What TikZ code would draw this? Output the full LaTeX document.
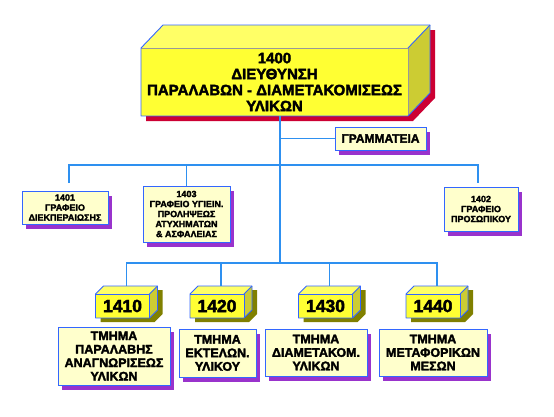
\documentclass[tikz,border=0pt]{standalone}
\usepackage{fontspec}
\setmainfont{Liberation Sans}
\newfontfamily\orgfont{Liberation Sans Bold}[FakeBold=2.5]
\usetikzlibrary{backgrounds,shadows}
\definecolor{linkblue}{HTML}{2E90F0}
\definecolor{edgeblue}{HTML}{3366FF}
\definecolor{edgegray}{HTML}{999999}
\definecolor{paleyellow}{HTML}{FFFFCC}
\definecolor{shadowpurple}{HTML}{9933CC}
\definecolor{cubefront}{HTML}{FFFF33}
\definecolor{cubetop}{HTML}{FFFF66}
\definecolor{cubeside}{HTML}{CCCC33}
\definecolor{shadowred}{HTML}{CC0033}
\definecolor{shadowolive}{HTML}{808000}

% faces of a box around its front node:
% #1 node, #2 depth, #3 inner edge colour, #4 shadow colour, #5 shadow shift
\newcommand{\prismfaces}[5]{%
  \fill[cubetop] (#1.north west) -- ([shift={#2}]#1.north west)
    -- ([shift={#2}]#1.north east) -- (#1.north east) -- cycle;
  \fill[cubeside] (#1.north east) -- ([shift={#2}]#1.north east)
    -- ([shift={#2}]#1.south east) -- (#1.south east) -- cycle;
  \draw[cubeedge=#3] (#1.north west) -- (#1.north east) -- (#1.south east);
  \draw[cubeedge=edgeblue] (#1.south west) -- (#1.north west)
    -- ([shift={#2}]#1.north west) -- ([shift={#2}]#1.north east)
    -- ([shift={#2}]#1.south east) -- (#1.south east) -- cycle;
  \draw[cubeedge=edgeblue] (#1.north east) -- ([shift={#2}]#1.north east);
  \begin{scope}[on background layer]
    \fill[#4] ([shift={#5}]#1.south west) -- ([shift={#5}]#1.north west)
      -- ([shift={#2},shift={#5}]#1.north west)
      -- ([shift={#2},shift={#5}]#1.north east)
      -- ([shift={#2},shift={#5}]#1.south east)
      -- ([shift={#5}]#1.south east) -- cycle;
  \end{scope}
}

\begin{document}
\begin{tikzpicture}[
    x=1pt, y=-1pt,
    every node/.style={text=black},
    cubeedge/.style={draw=#1, line width=0.9pt, line join=round},
    dirbox/.style={
        rectangle,
        fill=cubefront,
        inner sep=0pt, outer sep=0pt,
        minimum width=267pt,
        minimum height=68pt,
        align=center,
        font=\orgfont\fontsize{15}{16}\selectfont
    },
    numbox/.style={
        rectangle,
        fill=cubefront,
        inner sep=0pt, outer sep=0pt,
        minimum width=54pt,
        minimum height=24pt,
        font=\orgfont\fontsize{17.5}{18}\selectfont
    },
    flatbox/.style={
        rectangle,
        draw=edgeblue,
        line width=1pt,
        fill=paleyellow,
        inner sep=0pt, outer sep=0pt,
        align=center,
        drop shadow={shadow xshift=4pt, shadow yshift=-5pt,
                     fill=shadowpurple, opacity=1}
    },
    officebox/.style={flatbox, font=\orgfont\fontsize{9}{10}\selectfont},
    deptbox/.style={flatbox, font=\orgfont\fontsize{12.5}{13.5}\selectfont},
    secbox/.style={flatbox, font=\orgfont\fontsize{12}{13}\selectfont},
    conn/.style={draw=linkblue, line width=1.3pt}
]
\useasboundingbox (0,0) rectangle (554,416);

% direction
\node[dirbox] (dir) at (274.5,82)
{1400\\ΔΙΕΥΘΥΝΣΗ\\ΠΑΡΑΛΑΒΩΝ - ΔΙΑΜΕΤΑΚΟΜΙΣΕΩΣ\\ΥΛΙΚΩΝ};
\prismfaces{dir}{(22,-23)}{edgegray}{shadowred}{(5,5)}

\node[secbox, minimum width=91pt, minimum height=23pt] (gram) at (380.5,138.5)
{ΓΡΑΜΜΑΤΕΙΑ};

% offices
\node[officebox, minimum width=86pt, minimum height=33pt] (o1401) at (65,207.5)
{1401\\ΓΡΑΦΕΙΟ\\ΔΙΕΚΠΕΡΑΙΩΣΗΣ};
\node[officebox, minimum width=87pt, minimum height=56pt] (o1403) at (186.5,214)
{1403\\ΓΡΑΦΕΙΟ ΥΓΙΕΙΝ.\\ΠΡΟΛΗΨΕΩΣ\\ΑΤΥΧΗΜΑΤΩΝ\\\& ΑΣΦΑΛΕΙΑΣ};
\node[officebox, minimum width=74pt, minimum height=44pt] (o1402) at (481,209)
{1402\\ΓΡΑΦΕΙΟ\\ΠΡΟΣΩΠΙΚΟΥ};

% departments
\node[numbox] (n1410) at (122.5,306) {1410};
\node[numbox] (n1420) at (217,306) {1420};
\node[numbox] (n1430) at (325.5,306) {1430};
\node[numbox] (n1440) at (433,306) {1440};
\foreach \n in {1410,1420,1430,1440}{
    \prismfaces{n\n}{(8,-8)}{edgeblue}{shadowolive}{(5,4)}
}

\node[deptbox, minimum width=112pt, minimum height=58pt] (t1410) at (114,356)
{ΤΜΗΜΑ\\ΠΑΡΑΛΑΒΗΣ\\ΑΝΑΓΝΩΡΙΣΕΩΣ\\ΥΛΙΚΩΝ};
\node[deptbox, minimum width=77pt, minimum height=48pt] (t1420) at (217.5,353)
{ΤΜΗΜΑ\\ΕΚΤΕΛΩΝ.\\ΥΛΙΚΟΥ};
\node[deptbox, minimum width=102pt, minimum height=47pt] (t1430) at (316,352.5)
{ΤΜΗΜΑ\\ΔΙΑΜΕΤΑΚΟΜ.\\ΥΛΙΚΩΝ};
\node[deptbox, minimum width=108pt, minimum height=47pt] (t1440) at (433,352.5)
{ΤΜΗΜΑ\\ΜΕΤΑΦΟΡΙΚΩΝ\\ΜΕΣΩΝ};

% connectors
\coordinate (spine) at (280,263);
\coordinate (midbus) at (280,165);
\draw[conn] (dir.south -| spine) -- (spine);
\draw[conn] (gram.west -| spine) -- (gram.west);
\draw[conn] ([xshift=4pt,yshift=8pt]o1401.north) -- ([xshift=4pt]o1401.north |- midbus)
    -- ([xshift=-3pt]o1402.north |- midbus) -- ([xshift=-3pt,yshift=4pt]o1402.north);
\draw[conn] (o1403.north |- midbus) -- (o1403.north);
\draw[conn] ([xshift=4pt,yshift=8pt]n1410.north) -- ([xshift=4pt]n1410.north |- spine)
    -- ([xshift=4pt]n1440.north |- spine) -- ([xshift=4pt,yshift=8pt]n1440.north);
\foreach \n in {1420,1430}{
    \draw[conn] ([xshift=4pt]n\n.north |- spine) -- ([xshift=4pt,yshift=8pt]n\n.north);
}

\end{tikzpicture}
\end{document}
